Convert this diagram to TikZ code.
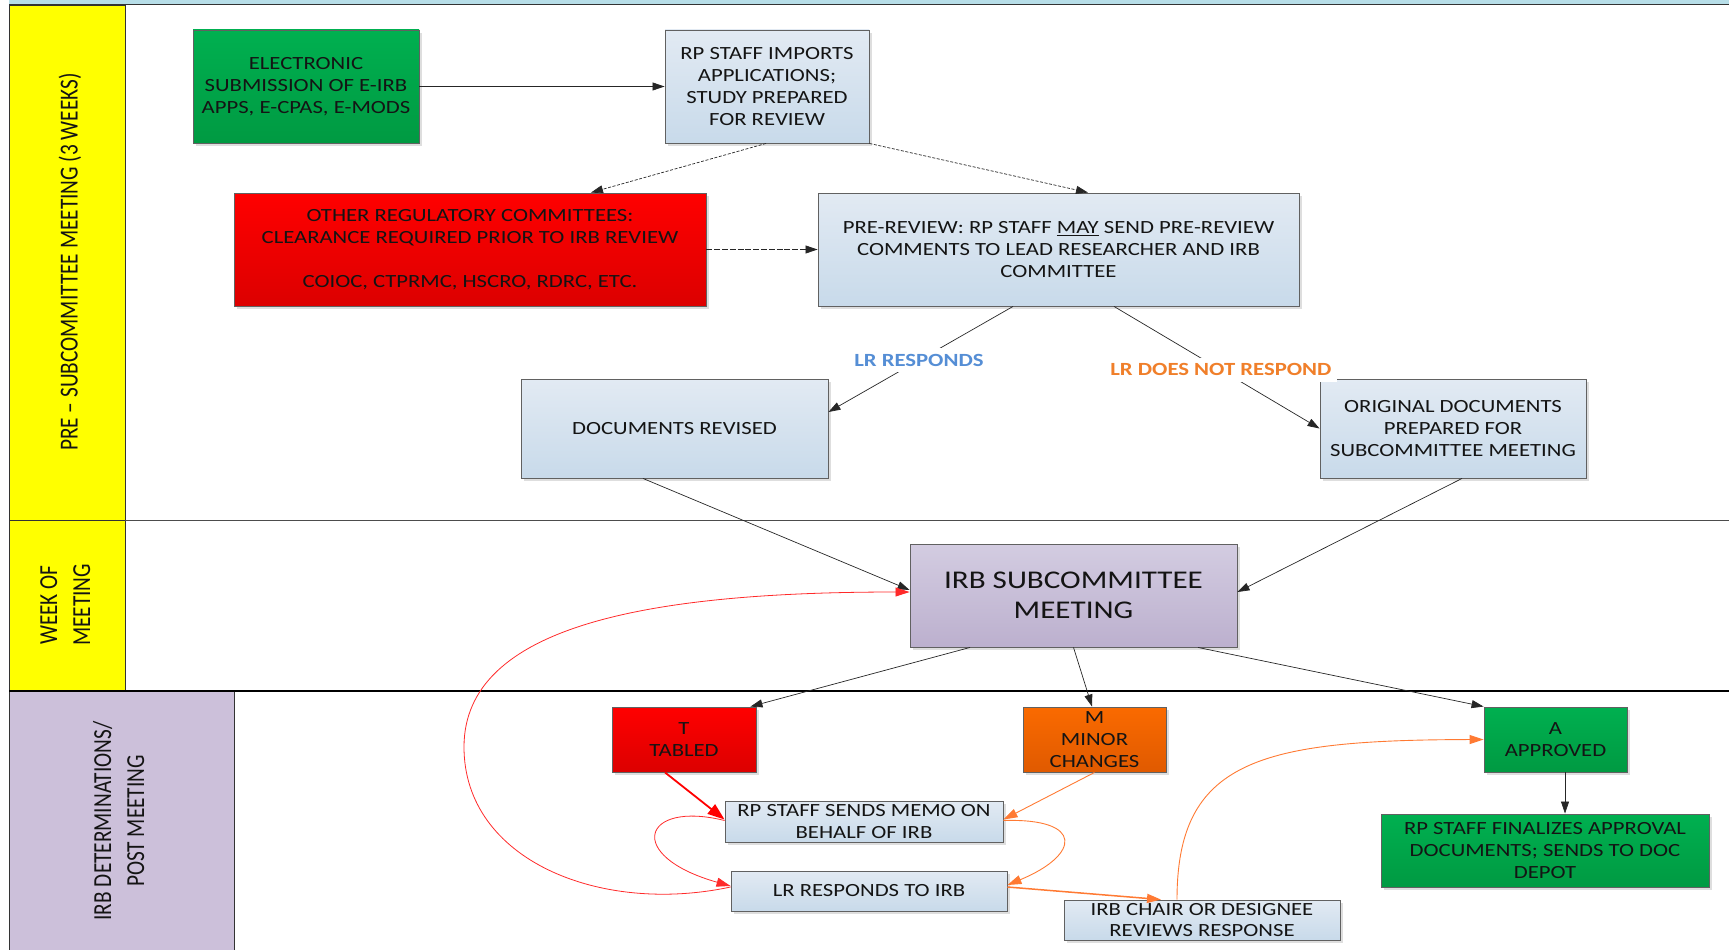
\documentclass[tikz,border=0pt]{standalone}
\usepackage{fontspec}
\setmainfont{Carlito}[FakeStretch=1.22]
\newfontfamily\lanefont{Carlito}
\usetikzlibrary{arrows.meta,shadows,calc}

\definecolor{bandblue}{HTML}{B7DEE8}
\definecolor{laneyellow}{HTML}{FFFF00}
\definecolor{lanelav}{HTML}{CCC0DA}
\definecolor{bluetop}{HTML}{E2EAF3}
\definecolor{bluebot}{HTML}{C8DAEA}
\definecolor{greentop}{HTML}{00B050}
\definecolor{greenbot}{HTML}{009A42}
\definecolor{redtop}{HTML}{FF0000}
\definecolor{redbot}{HTML}{DC0000}
\definecolor{orangetop}{HTML}{FA6A00}
\definecolor{orangebot}{HTML}{E05A00}
\definecolor{lavtop}{HTML}{D3CCE1}
\definecolor{lavbot}{HTML}{BCB0CE}
\definecolor{lrblue}{HTML}{558ED5}
\definecolor{lrorange}{HTML}{F07F2A}
\definecolor{loopred}{HTML}{FF2A2A}
\definecolor{looporange}{HTML}{FF7A33}

\newcommand\bxfont{\fontsize{18.6}{21.7}\selectfont}
\newcommand\bigbxfont{\fontsize{25.5}{30}\selectfont}
\newcommand\lanetext[1]{\scalebox{1}[1.22]{\lanefont\fontsize{21.3}{27}\selectfont
  \begin{tabular}{@{}c@{}}#1\end{tabular}}}

\begin{document}
\begin{tikzpicture}[x=1pt,y=-1pt,
  box/.style={draw=black!62, line width=0.9pt, inner sep=0pt, align=center,
    font=\bxfont, text=black!92,
    drop shadow={shadow xshift=3pt, shadow yshift=-3pt, fill=black, opacity=0.13}},
  size/.style 2 args={minimum width=#1pt, minimum height=#2pt},
  bluebox/.style={box, top color=bluetop, bottom color=bluebot},
  greenbox/.style={box, top color=greentop, bottom color=greenbot},
  redbox/.style={box, top color=redtop, bottom color=redbot},
  orangebox/.style={box, top color=orangetop, bottom color=orangebot},
  lavbox/.style={box, top color=lavtop, bottom color=lavbot, font=\bigbxfont},
  lanehead/.style={draw=black!80, line width=0.9pt},
  lanelabel/.style={rotate=90, inner sep=0pt, text=black!92},
  conn/.style={-{Triangle[length=12pt,width=8pt]}, line width=0.7pt, draw=black!85},
  dconn/.style={conn, dash pattern=on 3pt off 1.6pt},
  ldconn/.style={conn, dash pattern=on 6pt off 1.8pt},
  lbl/.style={fill=white, inner sep=6pt, font=\bfseries\bxfont},
  redthick/.style={-{Triangle[length=17pt,width=12pt]}, line width=1.8pt, draw=redtop},
  redloop/.style={-{Triangle[length=14pt,width=9pt]}, line width=0.8pt, draw=loopred},
  orloop/.style={-{Triangle[length=14pt,width=9pt]}, line width=0.9pt, draw=looporange},
  orthick/.style={-{Triangle[length=14pt,width=9pt]}, line width=1.5pt, draw=looporange}
]
\useasboundingbox (0,0) rectangle (1729,950);

% swim lanes
\fill[bandblue] (9,0) rectangle (1729,5);
\draw[line width=1pt, black!80] (9,5) -- (1729,5);
\path[lanehead, fill=laneyellow] (9,5) rectangle (125,520);
\path[lanehead, fill=laneyellow] (9,520) rectangle (125,691);
\path[lanehead, fill=lanelav] (9,691) rectangle (234,951);
\draw[line width=1pt, black!70] (125,520) -- (1729,520);
\draw[line width=1.1pt, black] (9,691) -- (1729,691);

\node[lanelabel] (lane1) at (71,262) {\lanetext{PRE – SUBCOMMITTEE MEETING (3 WEEKS)}};
\node[lanelabel] (lane2) at (67,605) {\lanetext{WEEK OF\\MEETING}};
\node[lanelabel] (lane3) at (121,821) {\lanetext{IRB DETERMINATIONS/\\POST MEETING}};

% process boxes
\node[greenbox, size={226}{113}] (sub) at (306,86.5)
  {ELECTRONIC\\SUBMISSION OF E-IRB\\APPS, E-CPAS, E-MODS};
\node[bluebox, size={204}{113}] (imp) at (767,86.5)
  {RP STAFF IMPORTS\\APPLICATIONS;\\STUDY PREPARED\\FOR REVIEW};
\node[redbox, size={472}{113}] (other) at (470,249.5)
  {OTHER REGULATORY COMMITTEES:\\CLEARANCE REQUIRED PRIOR TO IRB REVIEW\\[22.5pt]COIOC, CTPRMC, HSCRO, RDRC, ETC.};
\node[bluebox, size={481}{113}] (pre) at (1058.5,249.5)
  {PRE-REVIEW: RP STAFF \underline{MAY} SEND PRE-REVIEW\\COMMENTS TO LEAD RESEARCHER AND IRB\\COMMITTEE};
\node[bluebox, size={307}{99}] (rev) at (674.5,428.5) {DOCUMENTS REVISED};
\node[bluebox, size={266}{99}] (orig) at (1453,428.5)
  {ORIGINAL DOCUMENTS\\PREPARED FOR\\SUBCOMMITTEE MEETING};
\node[lavbox, size={327}{103}] (irb) at (1073.5,595.5) {IRB SUBCOMMITTEE\\MEETING};
\node[redbox, size={144}{65}] (tab) at (684,739.5) {T\\TABLED};
\node[orangebox, size={143}{65}] (minor) at (1094.5,739.5) {M\\MINOR\\CHANGES};
\node[greenbox, size={143}{65}] (appr) at (1555.5,739.5) {A\\APPROVED};
\node[greenbox, size={328}{73}] (fin) at (1545,850.5)
  {RP STAFF FINALIZES APPROVAL\\DOCUMENTS; SENDS TO DOC\\DEPOT};
\node[bluebox, size={278}{41}] (memo) at (864,821.5) {RP STAFF SENDS MEMO ON\\BEHALF OF IRB};
\node[bluebox, size={276}{40}] (lrr) at (869,891) {LR RESPONDS TO IRB};
\node[bluebox, size={276}{40}] (chair) at (1202,920) {IRB CHAIR OR DESIGNEE\\REVIEWS RESPONSE};

% pre-meeting flow
\draw[conn] (sub.east) -- (imp.west);
\draw[dconn] ([xshift=-1pt]imp.south) -- ([xshift=121pt]other.north);
\draw[dconn] (imp.south east) -- ([xshift=29.5pt]pre.north);
\draw[ldconn] (other.east) -- (pre.west);
\draw[conn] ([xshift=-45.5pt]pre.south) --
  node[lbl, text=lrblue, pos=0.51] {LR RESPONDS} ([yshift=16.5pt]rev.east);
\draw[conn] ([xshift=55.5pt]pre.south) --
  node[lbl, text=lrorange, pos=0.52] {LR DOES NOT RESPOND} (orig.west);
\draw[conn] ([xshift=-31.5pt]rev.south) -- ([yshift=5.5pt]irb.west);
\draw[conn] ([xshift=9pt]orig.south) -- ([yshift=3.5pt]irb.east);

% determinations
\draw[conn] ([xshift=-103.5pt]irb.south) -- ([xshift=-6pt]tab.north east);
\draw[conn] (irb.south) -- ([xshift=-2.5pt]minor.north);
\draw[conn] ([xshift=124.5pt]irb.south) -- (appr.north west);
\draw[conn] ([xshift=9.5pt]appr.south) -- ([xshift=9.5pt]appr.south |- fin.north);

% tabled path
\draw[redthick] ([xshift=-19pt]tab.south) -- ([yshift=2pt]memo.west);
\draw[redloop] ([yshift=1pt]memo.west) .. controls (642,800) and (624,856) .. ([yshift=5pt]lrr.west);
\draw[redloop] ([yshift=4pt]lrr.west) .. controls (600,915) and (464,860) .. (464,747)
  .. controls (464,625) and (650,592) .. ([yshift=3.5pt]irb.west);

% minor changes path
\draw[orloop] (minor.south) -- ([yshift=2pt]memo.east);
\draw[orloop] ([yshift=1pt]memo.east) .. controls (1085,818) and (1080,855) .. ([yshift=6pt]lrr.east);
\draw[orthick] ([yshift=4pt]lrr.east) -- ([xshift=-41pt]chair.north);
\draw[orloop] ([xshift=-25pt]chair.north) .. controls (1177,760) and (1260,740) .. (appr.west);
\end{tikzpicture}
\end{document}
